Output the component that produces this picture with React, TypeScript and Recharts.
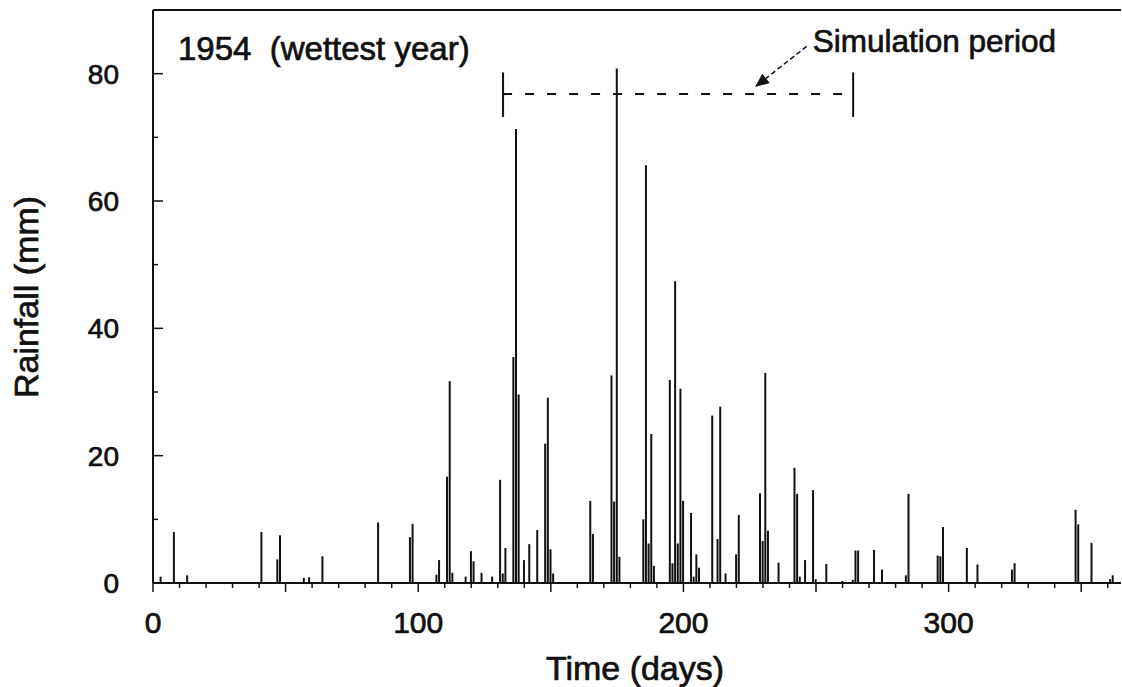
import React from "react";
import {
  ComposedChart,
  Bar,
  XAxis,
  YAxis,
  ReferenceLine,
  Customized,
} from "recharts";

// day of year and daily rainfall (mm), 1954
const DAYS = [
  3, 8, 13, 41, 47, 48, 57, 59, 64, 85, 97, 98, 107, 108, 111, 112, 113, 118,
  120, 121, 124, 128, 131, 132, 133, 136, 137, 138, 140, 142, 145, 148, 149,
  150, 151, 165, 166, 173, 174, 175, 176, 185, 186, 187, 188, 189, 195, 196,
  197, 198, 199, 200, 203, 204, 205, 206, 211, 213, 214, 216, 220, 221, 229,
  230, 231, 232, 236, 242, 243, 244, 246, 249, 250, 254, 260, 264, 265, 266,
  272, 275, 284, 285, 296, 297, 298, 307, 311, 324, 325, 348, 349, 354, 361,
  362,
];
const RAIN = [
  1.0, 8.0, 1.2, 8.0, 3.7, 7.5, 0.8, 0.9, 4.2, 9.5, 7.2, 9.3, 1.3, 3.6, 16.7,
  31.7, 1.6, 1.0, 5.0, 3.4, 1.6, 1.0, 16.2, 1.5, 5.5, 35.5, 71.3, 29.6, 3.6,
  6.1, 8.3, 21.9, 29.1, 5.3, 1.5, 12.9, 7.7, 32.6, 12.8, 80.8, 4.1, 10.0, 65.6,
  6.2, 23.4, 2.7, 31.9, 3.1, 47.4, 6.2, 30.5, 12.9, 11.0, 1.0, 4.5, 2.4, 26.3,
  6.9, 27.7, 1.5, 4.5, 10.7, 14.1, 6.6, 33.0, 8.2, 3.2, 18.1, 14.0, 1.0, 3.6,
  14.6, 0.6, 3.0, 0.3, 0.5, 5.1, 5.1, 5.2, 2.1, 1.2, 14.0, 4.3, 4.2, 8.8, 5.5,
  2.9, 2.1, 3.1, 11.5, 9.2, 6.3, 0.6, 1.2,
];

const X_TICKS = [
  0, 10, 20, 30, 40, 50, 60, 70, 80, 90, 100, 110, 120, 130, 140, 150, 160,
  170, 180, 190, 200, 210, 220, 230, 240, 250, 260, 270, 280, 290, 300, 310,
  320, 330, 340, 350, 360,
];
const Y_TICKS = [0, 10, 20, 30, 40, 50, 60, 70, 80];

// simulation period bracket (days) and its height (mm)
const SIM_START = 132;
const SIM_END = 264;
const SIM_LEVEL = 76.8;
const ARROW_FROM = { x: 246.5, y: 84.3 };
const ARROW_TO = { x: 227, y: 77.9 };

const data = DAYS.map((d, i) => ({ day: d, rain: RAIN[i] }));

const FONT = "'Liberation Sans', Arial, Helvetica, sans-serif";
const INK = "#111";
// scanned lettering is a bit heavier than plain regular
const heavy = { stroke: INK, strokeWidth: 0.7 };

const XTick = (props: any) => {
  const { x, y, payload } = props;
  const v = payload.value;
  const len = v % 50 === 0 ? 9 : 5;
  return (
    <g>
      <line x1={x} x2={x} y1={y} y2={y + len} stroke={INK} strokeWidth={1.5} />
      {v % 100 === 0 && (
        <text x={x} y={y + 50} textAnchor="middle" fontSize={30} fontFamily={FONT} fill={INK} {...heavy}>
          {v}
        </text>
      )}
    </g>
  );
};

const YTick = (props: any) => {
  const { x, y, payload } = props;
  const v = payload.value;
  const len = v % 20 === 0 ? 10 : 5;
  return (
    <g>
      <line x1={x} x2={x + len} y1={y} y2={y} stroke={INK} strokeWidth={1.5} />
      {v % 20 === 0 && (
        <text x={x - 34} y={y + 10} textAnchor="end" fontSize={28} fontFamily={FONT} fill={INK} {...heavy}>
          {v}
        </text>
      )}
    </g>
  );
};

const ArrowShape = (props: any) => {
  const { x1, y1, x2, y2 } = props;
  const ang = Math.atan2(y2 - y1, x2 - x1);
  const L = 14;
  const W = 6;
  const bx = x2 - L * Math.cos(ang);
  const by = y2 - L * Math.sin(ang);
  const px = -Math.sin(ang) * W;
  const py = Math.cos(ang) * W;
  return (
    <g>
      <line x1={x1} y1={y1} x2={bx} y2={by} stroke={INK} strokeWidth={1.5} strokeDasharray="5 3" />
      <polygon points={`${x2},${y2} ${bx + px},${by + py} ${bx - px},${by - py}`} fill={INK} />
      <text x={x1 + 6} y={y1 + 6} fontSize={31.5} fontFamily={FONT} fill={INK} {...heavy}>
        Simulation period
      </text>
    </g>
  );
};

const Titles = () => (
  <g fontFamily={FONT} fill={INK} {...heavy}>
    <text x={178} y={60} fontSize={33} style={{ whiteSpace: "pre" }}>
      {"1954  (wettest year)"}
    </text>
    <text x={635} y={680} fontSize={34} textAnchor="middle">
      Time (days)
    </text>
    <text transform="translate(38, 297) rotate(-90)" fontSize={34} textAnchor="middle">
      Rainfall (mm)
    </text>
  </g>
);

export default function App() {
  return (
    <div style={{ position: "absolute", left: 0, top: 0, background: "#fff" }}>
      <ComposedChart
        width={1122}
        height={687}
        data={data}
        margin={{ top: 10, right: 1, left: 0, bottom: 0 }}
      >
        <XAxis
          type="number"
          dataKey="day"
          domain={[0, 365]}
          ticks={X_TICKS}
          interval={0}
          height={104}
          tickSize={0}
          tickMargin={0}
          tickLine={false}
          tick={<XTick />}
          axisLine={{ stroke: INK, strokeWidth: 2 }}
          allowDataOverflow
        />
        <YAxis
          type="number"
          domain={[0, 90]}
          ticks={Y_TICKS}
          interval={0}
          width={153}
          tickSize={0}
          tickMargin={0}
          tickLine={false}
          tick={<YTick />}
          axisLine={{ stroke: INK, strokeWidth: 2 }}
          allowDataOverflow
        />
        <ReferenceLine y={90} stroke={INK} strokeWidth={2} />
        <Bar dataKey="rain" fill={INK} barSize={2} isAnimationActive={false} />
        <ReferenceLine
          segment={[{ x: SIM_START, y: SIM_LEVEL }, { x: SIM_END, y: SIM_LEVEL }]}
          stroke={INK}
          strokeWidth={2}
          strokeDasharray="9 13"
        />
        <ReferenceLine
          segment={[{ x: SIM_START, y: 73.2 }, { x: SIM_START, y: 80.2 }]}
          stroke={INK}
          strokeWidth={2}
        />
        <ReferenceLine
          segment={[{ x: SIM_END, y: 73.2 }, { x: SIM_END, y: 80.2 }]}
          stroke={INK}
          strokeWidth={2}
        />
        <ReferenceLine segment={[ARROW_FROM, ARROW_TO]} shape={<ArrowShape />} />
        <Customized component={Titles} />
      </ComposedChart>
    </div>
  );
}
